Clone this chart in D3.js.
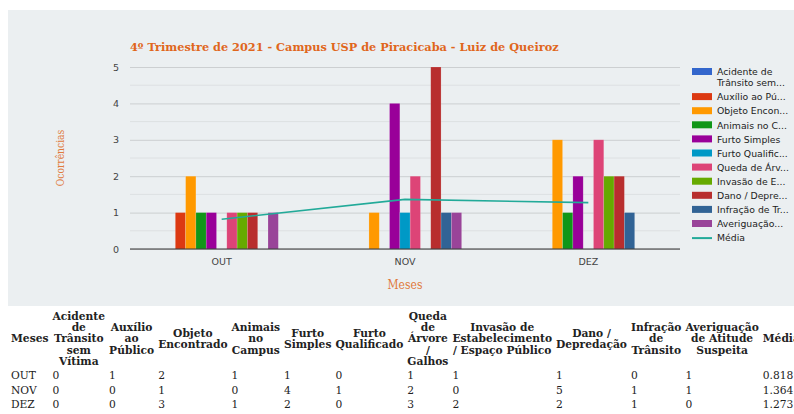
<!DOCTYPE html>
<html>
<head>
<meta charset="utf-8">
<script src="https://cdn.jsdelivr.net/npm/d3@7"></script>
<style>
  body { margin: 0; background: #fff; overflow: hidden; }
  svg { display: block; }
  table { margin-left: 8px; margin-top: 2px; font-family: "DejaVu Serif", serif; font-size: 10.7px; color: #222; border-spacing: 2px; }
  th, td { padding: 1px; }
  th { line-height: 11.2px; }
  td { text-align: left; line-height: 10.6px; }
</style>
</head>
<body>
<svg id="chart" width="794" height="306"></svg>
<table id="tbl"></table>
<script>
const meses = ["OUT", "NOV", "DEZ"];
const series = [
  "Acidente de Trânsito sem Vítima",
  "Auxílio ao Público",
  "Objeto Encontrado",
  "Animais no Campus",
  "Furto Simples",
  "Furto Qualificado",
  "Queda de Árvore / Galhos",
  "Invasão de Estabelecimento / Espaço Público",
  "Dano / Depredação",
  "Infração de Trânsito",
  "Averiguação de Atitude Suspeita"
];
// legend labels as the chart shows them (truncated)
const legendLabels = [
  ["Acidente de", "Trânsito sem..."],
  ["Auxílio ao Pú..."],
  ["Objeto Encon..."],
  ["Animais no C..."],
  ["Furto Simples"],
  ["Furto Qualific..."],
  ["Queda de Árv..."],
  ["Invasão de E..."],
  ["Dano / Depre..."],
  ["Infração de Tr..."],
  ["Averiguação..."]
];
// values per month, one row per month, in series order
const valores = [
  [0, 1, 2, 1, 1, 0, 1, 1, 1, 0, 1],
  [0, 0, 1, 0, 4, 1, 2, 0, 5, 1, 1],
  [0, 0, 3, 1, 2, 0, 3, 2, 2, 1, 0]
];
const media = [0.818, 1.364, 1.273];
const yTicks = [0, 1, 2, 3, 4, 5];
const colors = ["#3366cc", "#dc3912", "#ff9900", "#109618", "#990099", "#0099c6",
                "#dd4477", "#66aa00", "#b82e2e", "#316395", "#994499"];
const mediaColor = "#22aa99";

const svg = d3.select("#chart");
const pLeft = 130, pRight = 680, pTop = 67, pBottom = 249;

svg.append("rect")
  .attr("x", 8).attr("y", 10).attr("width", 786).attr("height", 296)
  .attr("fill", "#ebeff1");

const x0 = d3.scaleBand().domain(meses).range([pLeft, pRight])
  .paddingInner(0.382).paddingOuter(0.191);
const x1 = d3.scaleBand().domain(series).range([0, x0.bandwidth()]);
const y = d3.scaleLinear().domain([0, 5]).range([pBottom, pTop]);

// minor gridlines
svg.append("g")
  .selectAll("line")
  .data(d3.range(0.5, 5, 1))
  .join("line")
  .attr("x1", pLeft).attr("x2", pRight)
  .attr("y1", d => y(d)).attr("y2", d => y(d))
  .attr("stroke", "#dde0e2").attr("stroke-width", 1);

// y axis with major gridlines
const yAxis = svg.append("g")
  .attr("transform", `translate(${pLeft},0)`)
  .call(d3.axisLeft(y).tickValues(yTicks).tickFormat(d3.format("d"))
    .tickSize(-(pRight - pLeft)).tickPadding(11));
yAxis.select(".domain").remove();
yAxis.selectAll(".tick line").attr("stroke", "#cccfd1");
yAxis.selectAll(".tick text")
  .attr("fill", "#444").style("font-family", "DejaVu Sans").style("font-size", "9.5px");

// bars
svg.append("g")
  .selectAll("g")
  .data(meses)
  .join("g")
  .attr("transform", d => `translate(${x0(d)},0)`)
  .selectAll("rect")
  .data((m, i) => series.map((s, j) => ({ s, j, v: valores[i][j] })))
  .join("rect")
  .attr("x", d => x1(d.s))
  .attr("width", x1.bandwidth())
  .attr("y", d => y(d.v))
  .attr("height", d => y(0) - y(d.v))
  .attr("fill", d => colors[d.j])
  .attr("stroke", "#ffffff").attr("stroke-opacity", 0.25).attr("stroke-width", 0.6);

// baseline
svg.append("line")
  .attr("x1", pLeft).attr("x2", pRight)
  .attr("y1", y(0)).attr("y2", y(0))
  .attr("stroke", "#333").attr("stroke-width", 1);

// x axis labels
const xAxis = svg.append("g")
  .attr("transform", `translate(0,${pBottom})`)
  .call(d3.axisBottom(x0).tickSize(0).tickPadding(9));
xAxis.select(".domain").remove();
xAxis.selectAll(".tick text")
  .attr("fill", "#444").style("font-family", "DejaVu Sans").style("font-size", "9.5px");

// média line
const line = d3.line()
  .x((d, i) => x0(meses[i]) + x0.bandwidth() / 2)
  .y(d => y(d));
svg.append("path")
  .datum(media)
  .attr("d", line)
  .attr("fill", "none")
  .attr("stroke", mediaColor).attr("stroke-width", 1.6);

// title
svg.append("text")
  .attr("x", pLeft).attr("y", 51)
  .attr("fill", "#e0661c")
  .style("font-family", "DejaVu Serif")
  .style("font-weight", "bold").style("font-size", "11.3px")
  .text("4º Trimestre de 2021 - Campus USP de Piracicaba - Luiz de Queiroz");

// axis titles
svg.append("text")
  .attr("transform", `translate(64,${(pTop + pBottom) / 2}) rotate(-90)`)
  .attr("text-anchor", "middle")
  .attr("fill", "#e07a3c")
  .style("font-family", "DejaVu Serif Condensed, DejaVu Serif")
  .style("font-stretch", "condensed")
  .style("font-size", "10.2px")
  .text("Ocorrências");

svg.append("text")
  .attr("x", (pLeft + pRight) / 2).attr("y", 289)
  .attr("text-anchor", "middle")
  .attr("fill", "#e07a3c")
  .style("font-family", "DejaVu Serif Condensed, DejaVu Serif")
  .style("font-stretch", "condensed")
  .style("font-size", "12px")
  .text("Meses");

// legend
const legend = svg.append("g")
  .style("font-family", "DejaVu Sans").style("font-size", "9.3px").attr("fill", "#222");
let ly = 72;
legendLabels.forEach((lines, i) => {
  legend.append("rect")
    .attr("x", 692).attr("y", ly - 4).attr("width", 20).attr("height", 7)
    .attr("fill", colors[i]);
  lines.forEach((t, k) => {
    legend.append("text")
      .attr("x", 717).attr("y", ly + k * 11).attr("dy", "0.35em").text(t);
  });
  ly += 14.1 + (lines.length - 1) * 11;
});
legend.append("line")
  .attr("x1", 692).attr("x2", 712).attr("y1", ly).attr("y2", ly)
  .attr("stroke", mediaColor).attr("stroke-width", 2);
legend.append("text").attr("x", 717).attr("y", ly).attr("dy", "0.35em").text("Média");

// table
const tbl = d3.select("#tbl");
tbl.append("thead").append("tr")
  .selectAll("th")
  .data(["Meses"].concat(series, ["Média"]))
  .join("th")
  .text(d => d);
tbl.append("tbody")
  .selectAll("tr")
  .data(meses)
  .join("tr")
  .selectAll("td")
  .data((m, i) => [m].concat(valores[i], [media[i].toFixed(3)]))
  .join("td")
  .text(d => d);
</script>
</body>
</html>
